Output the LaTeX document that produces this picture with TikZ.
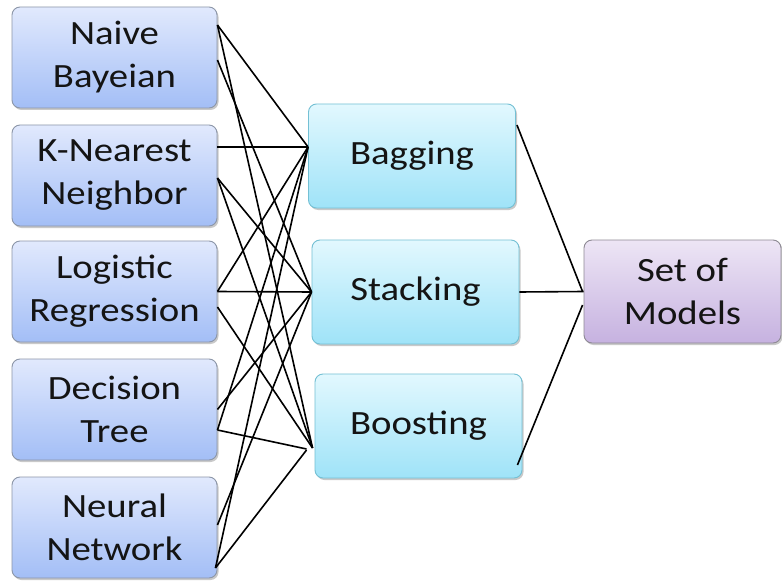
\documentclass[tikz,border=0pt]{standalone}
\usepackage{fontspec}
\setmainfont{Carlito}[FakeStretch=1.14]
\usetikzlibrary{shadows}
\definecolor{ltop}{HTML}{E1E9FD}
\definecolor{lbot}{HTML}{A3BEF6}
\definecolor{lbd}{HTML}{8C96A8}
\definecolor{mtop}{HTML}{E2F8FE}
\definecolor{mbot}{HTML}{9FE3F8}
\definecolor{mbd}{HTML}{74C0D4}
\definecolor{ptop}{HTML}{EDE5F5}
\definecolor{pbot}{HTML}{C6B2E0}
\definecolor{pbd}{HTML}{8E8A94}
\begin{document}
\begin{tikzpicture}[x=1pt,y=-1pt,
  box/.style={rounded corners=8pt, line width=0.9pt, align=center,
    font=\fontsize{34}{43}\selectfont, inner sep=0pt, text=black!92,
    drop shadow={shadow xshift=1.5pt, shadow yshift=-2pt, opacity=0.35, fill=black!60}},
  leftbox/.style={box, minimum width=205pt, minimum height=101pt, draw=lbd, top color=ltop, bottom color=lbot},
  midbox/.style={box, minimum width=207pt, minimum height=104pt, draw=mbd, top color=mtop, bottom color=mbot},
  setbox/.style={box, minimum width=197pt, minimum height=103pt, draw=pbd, top color=ptop, bottom color=pbot},
  link/.style={line width=1.6pt, black}]
\useasboundingbox (0,0) rectangle (782,583);
\fill[white] (0,0) rectangle (782,583);
% left column
\node[leftbox] (nb) at (114.5,57.5) {Naive\\Bayeian};
\node[leftbox] (knn) at (114.5,175.5) {K-Nearest\\Neighbor};
\node[leftbox] (lr) at (114.5,291.5) {Logistic\\Regression};
\node[leftbox] (dt) at (114.5,409.5) {Decision\\Tree};
\node[leftbox] (nn) at (114.5,527.5) {Neural\\Network};
% middle column
\node[midbox] (bag) at (412,156) {Bagging};
\node[midbox] (stk) at (415.5,292) {Stacking};
\node[midbox] (bst) at (418.5,426) {Boosting};
% right
\node[setbox] (som) at (682.5,291.5) {Set of\\Models};
% connectors left -> middle
\draw[link] ([yshift=32.5pt]nb.east) -- ([yshift=9pt]bag.west);
\draw[link] ([yshift=32.5pt]nb.east) -- ([yshift=-22pt,xshift=-2pt]bst.west);
\draw[link] ([yshift=-2.5pt]nb.east) -- (stk.west);
\draw[link] ([yshift=28.5pt]knn.east) -- ([yshift=9pt]bag.west);
\draw[link] ([yshift=-2.5pt]knn.east) -- (stk.west);
\draw[link] ([yshift=-2.5pt]knn.east) -- ([yshift=-22pt,xshift=-2pt]bst.west);
\draw[link] (lr.east) -- (stk.west);
\draw[link] (lr.east) -- ([yshift=9pt]bag.west);
\draw[link] ([yshift=-15.5pt]lr.east) -- ([yshift=-22pt,xshift=-2pt]bst.west);
\draw[link] (dt.east) -- (stk.west);
\draw[link] ([yshift=-20.5pt]dt.east) -- ([yshift=9pt]bag.west);
\draw[link] ([yshift=-20.5pt]dt.east) -- ([yshift=-23pt,xshift=-8pt]bst.west);
\draw[link] ([yshift=2.5pt]nn.east) -- (stk.west);
\draw[link] ([yshift=-40.5pt,xshift=-2pt]nn.east) -- ([yshift=9pt]bag.west);
\draw[link] ([yshift=-40.5pt,xshift=-2pt]nn.east) -- ([yshift=-24pt,xshift=-8pt]bst.west);
% middle -> set
\draw[link] ([yshift=31pt,xshift=1pt]bag.east) -- ([xshift=-1pt]som.west);
\draw[link] (stk.east) -- (som.west);
\draw[link] ([yshift=-39pt,xshift=-5pt]bst.east) -- ([yshift=-13.5pt,xshift=-1pt]som.west);
\end{tikzpicture}
\end{document}
